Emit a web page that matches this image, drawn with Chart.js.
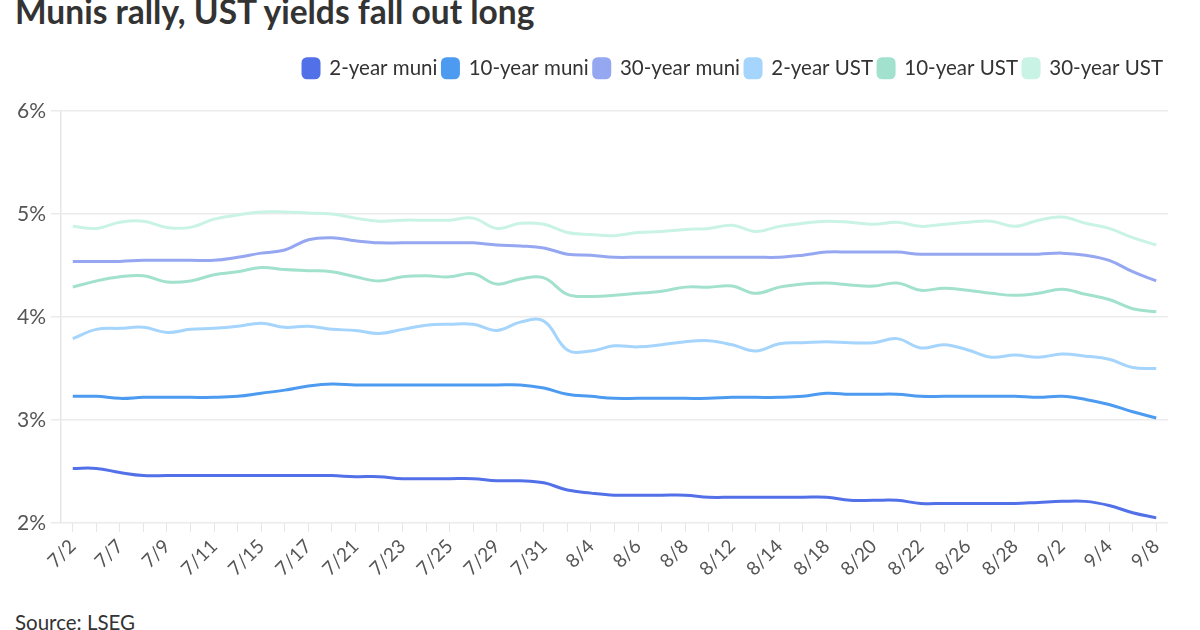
<!DOCTYPE html>
<html>
<head>
<meta charset="utf-8">
<script src="https://cdn.jsdelivr.net/npm/chart.js@4.4.1/dist/chart.umd.min.js"></script>
<style>
  html, body { margin: 0; padding: 0; background: #fff; }
  body { width: 1200px; height: 630px; overflow: hidden; position: relative; font-family: Lato, "Noto Sans", sans-serif; }
  #title { position: absolute; left: 15px; top: -5px; margin: 0; font-size: 33.5px; line-height: 33.5px; font-weight: 700; color: #333; white-space: nowrap; }
  #source { position: absolute; left: 15px; top: 612px; font-size: 20.5px; line-height: 20.5px; color: #333; white-space: nowrap; }
  #wrap { position: absolute; left: 0; top: 0; width: 1200px; height: 600px; }
</style>
</head>
<body>
<h1 id="title">Munis rally, UST yields fall out long</h1>
<div id="wrap"><canvas id="yieldChart"></canvas></div>
<div id="source">Source: LSEG</div>
<script>
// Trading days, 7/2 to 9/8
const dates = ['7/2','7/3','7/7','7/8','7/9','7/10','7/11','7/14','7/15','7/16','7/17','7/18',
  '7/21','7/22','7/23','7/24','7/25','7/28','7/29','7/30','7/31','8/1','8/4','8/5','8/6','8/7',
  '8/8','8/11','8/12','8/13','8/14','8/15','8/18','8/19','8/20','8/21','8/22','8/25','8/26',
  '8/27','8/28','8/29','9/2','9/3','9/4','9/5','9/8'];

const muni2 = [2.53,2.53,2.49,2.46,2.46,2.46,2.46,2.46,2.46,2.46,2.46,2.46,
  2.45,2.45,2.43,2.43,2.43,2.43,2.41,2.41,2.39,2.32,2.29,2.27,2.27,2.27,
  2.27,2.25,2.25,2.25,2.25,2.25,2.25,2.22,2.22,2.22,2.19,2.19,2.19,
  2.19,2.19,2.20,2.21,2.21,2.17,2.10,2.05];

const muni10 = [3.23,3.23,3.21,3.22,3.22,3.22,3.22,3.23,3.26,3.29,3.33,3.35,
  3.34,3.34,3.34,3.34,3.34,3.34,3.34,3.34,3.31,3.25,3.23,3.21,3.21,3.21,
  3.21,3.21,3.22,3.22,3.22,3.23,3.26,3.25,3.25,3.25,3.23,3.23,3.23,
  3.23,3.23,3.22,3.23,3.20,3.15,3.08,3.02];

const muni30 = [4.54,4.54,4.54,4.55,4.55,4.55,4.55,4.58,4.62,4.65,4.75,4.77,
  4.74,4.72,4.72,4.72,4.72,4.72,4.70,4.69,4.67,4.61,4.60,4.58,4.58,4.58,
  4.58,4.58,4.58,4.58,4.58,4.60,4.63,4.63,4.63,4.63,4.61,4.61,4.61,
  4.61,4.61,4.61,4.62,4.60,4.55,4.44,4.35];

const ust2 = [3.79,3.88,3.89,3.90,3.85,3.88,3.89,3.91,3.94,3.90,3.91,3.88,
  3.87,3.84,3.88,3.92,3.93,3.93,3.87,3.95,3.96,3.68,3.67,3.72,3.71,3.73,
  3.76,3.77,3.73,3.67,3.74,3.75,3.76,3.75,3.75,3.79,3.70,3.73,3.68,
  3.61,3.63,3.61,3.64,3.62,3.59,3.51,3.50];

const ust10 = [4.29,4.35,4.39,4.40,4.34,4.35,4.41,4.44,4.48,4.46,4.45,4.44,
  4.39,4.35,4.39,4.40,4.39,4.42,4.32,4.37,4.38,4.22,4.20,4.21,4.23,4.25,
  4.29,4.29,4.30,4.23,4.29,4.32,4.33,4.31,4.30,4.33,4.26,4.28,4.26,
  4.23,4.21,4.23,4.27,4.22,4.17,4.08,4.05];

const ust30 = [4.88,4.86,4.92,4.93,4.87,4.87,4.95,4.99,5.02,5.02,5.01,5.00,
  4.96,4.93,4.94,4.94,4.94,4.96,4.86,4.91,4.90,4.82,4.80,4.79,4.82,4.83,
  4.85,4.86,4.89,4.83,4.88,4.91,4.93,4.92,4.90,4.92,4.88,4.90,4.92,
  4.93,4.88,4.94,4.97,4.91,4.86,4.77,4.70];

const seriesNames = ['2-year muni','10-year muni','30-year muni','2-year UST','10-year UST','30-year UST'];
const seriesValues = [muni2, muni10, muni30, ust2, ust10, ust30];
const seriesColors = ['#5270e8','#4d9bf1','#96a7f1','#a5d4fc','#a2e1cd','#c9f3e5'];

const yTicks = [2, 3, 4, 5, 6];

// fixed legend block height so the plot starts at the 6% line
const legendSpacer = {
    id: 'legendSpacer',
    beforeInit(chart) {
        const origFit = chart.legend.fit;
        chart.legend.fit = function () {
            origFit.bind(chart.legend)();
            this.height = 58;
        };
    }
};

Chart.defaults.font.family = 'Lato, "Noto Sans", sans-serif';
Chart.defaults.color = '#555';

const ctx = document.getElementById('yieldChart').getContext('2d');
new Chart(ctx, {
    type: 'line',
    data: {
        labels: dates,
        datasets: seriesNames.map((name, i) => ({
            label: name,
            data: seriesValues[i],
            borderColor: seriesColors[i],
            backgroundColor: seriesColors[i],
            borderWidth: 3,
            pointRadius: 0,
            tension: 0.4,
            fill: false
        }))
    },
    options: {
        responsive: true,
        maintainAspectRatio: false,
        animation: false,
        layout: { padding: { left: 0, right: 32, top: 53, bottom: 0 } },
        plugins: {
            legend: {
                display: true,
                position: 'top',
                align: 'end',
                labels: {
                    boxWidth: 16,
                    boxHeight: 19,
                    useBorderRadius: true,
                    borderRadius: 4,
                    padding: 5,
                    color: '#333',
                    font: { size: 20.5 }
                }
            },
            tooltip: { enabled: false }
        },
        scales: {
            x: {
                offset: true,
                afterFit: (scale) => { scale.height = 77; },
                grid: { drawOnChartArea: false, drawTicks: true, tickLength: 9, color: '#e6e6e6' },
                border: { display: false },
                ticks: {
                    autoSkip: false,
                    maxRotation: 45,
                    minRotation: 45,
                    padding: 3,
                    font: { size: 19 },
                    color: '#555',
                    callback: function (val, idx) { return idx % 2 === 0 ? dates[idx] : ''; }
                }
            },
            y: {
                min: 2,
                max: 6,
                afterFit: (scale) => { scale.width = 61; },
                afterBuildTicks: (scale) => { scale.ticks = yTicks.map(v => ({ value: v })); },
                grid: { color: '#ebebeb', tickLength: 10, lineWidth: 1.5 },
                border: { display: true, color: '#e6e6e6', width: 1.5 },
                ticks: {
                    padding: 5,
                    font: { size: 21 },
                    color: '#555',
                    callback: (v) => v + '%'
                }
            }
        }
    },
    plugins: [legendSpacer]
});
</script>
</body>
</html>
